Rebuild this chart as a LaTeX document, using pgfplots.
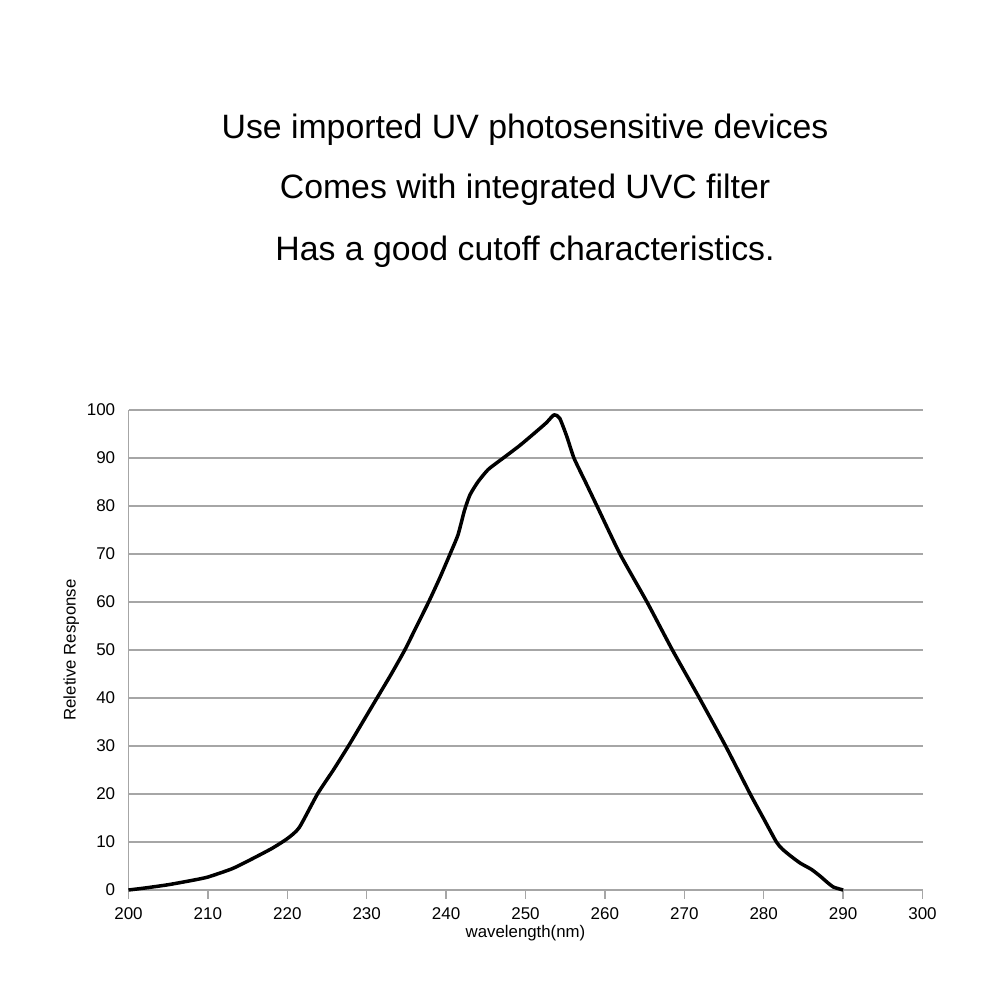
\documentclass[border=0pt]{standalone}
\usepackage{fontspec}
\setmainfont{Liberation Sans}
\usepackage{pgfplots}
\pgfplotsset{compat=1.18}
\begin{document}
\begin{tikzpicture}
\useasboundingbox (0,0) rectangle (500pt,500pt);
% headline text
\node[font=\fontsize{16.9}{20}\selectfont] at (262.5pt,435pt) {Use imported UV photosensitive devices};
\node[font=\fontsize{16.9}{20}\selectfont] at (262.5pt,405pt) {Comes with integrated UVC filter};
\node[font=\fontsize{16.9}{20}\selectfont] at (262.5pt,374pt) {Has a good cutoff characteristics.};
\begin{axis}[
    at={(64.25pt,55pt)}, anchor=south west,
    scale only axis,
    width=397pt, height=240pt,
    xmin=200, xmax=300, ymin=0, ymax=100,
    xtick={200,210,...,300},
    ytick={0,10,...,100},
    axis lines=left,
    axis line style={gray!70, line width=0.7pt, -},
    ymajorgrids,
    grid style={gray!70, line width=0.7pt},
    major tick style={gray!70, line width=0.7pt},
    xtick align=outside,
    ytick style={draw=none},
    /pgf/number format/assume math mode=true,
    /pgf/number format/1000 sep={},
    tick label style={font=\fontsize{8.5}{10}\selectfont},
    xticklabel style={yshift=-1pt},
    yticklabel style={xshift=-1pt},
    xlabel={wavelength(nm)},
    ylabel={Reletive Response},
    label style={font=\fontsize{8.4}{10}\selectfont},
    xlabel style={yshift=4pt},
    ylabel style={yshift=-3pt},
    clip=false,
  ]
  \addplot[black, line width=1.75pt, smooth, tension=0.35, line join=round] coordinates {
    (200,0) (202,0.4) (205,1.1) (208,2) (210,2.7) (213,4.4) (215,6) (218,8.6)
    (220,10.7) (221.5,13) (223.8,20) (225.8,25) (227.7,30) (229.5,35) (231.3,40)
    (233.1,45) (234.8,50) (236.3,55) (237.8,60) (239.2,65) (240.5,70) (241.5,74)
    (242.3,79) (243,82.3) (244,85) (245.3,87.6) (247.2,90) (249.2,92.5) (251,95)
    (252.6,97.3) (253.6,99) (254.3,98.3) (255.2,94.5) (256.1,90)
    (257.55,85) (259,80) (261.9,70) (265.3,60) (268.5,50) (271.9,40) (275.2,30)
    (278.3,20) (279.95,15) (281.6,10) (282.3,8.6) (283.3,7.2) (284.6,5.6)
    (286,4.3) (287.1,2.9) (288,1.6) (288.8,0.6) (290,0)
  };
\end{axis}
\end{tikzpicture}
\end{document}
